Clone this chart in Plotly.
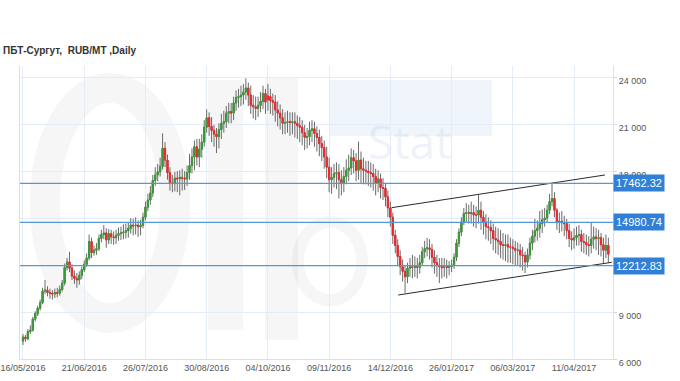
import plotly.graph_objects as go

# ---------------- data ----------------
tick_dates = ["16/05/2016", "21/06/2016", "26/07/2016", "30/08/2016", "04/10/2016",
              "09/11/2016", "14/12/2016", "26/01/2017", "06/03/2017", "11/04/2017"]
tick_bars = [0, 25, 50, 75, 100, 125, 150, 175, 200, 225]

opens = [7400, 7650, 7550, 8000, 8100, 8800, 9150, 9500, 9850, 10600,
         10650, 10500, 10450, 10400, 10500, 10450, 10700, 11100, 12100, 12450,
         12050, 11550, 11400, 11300, 11600, 11950, 12300, 12700, 13750, 13050,
         13200, 13300, 13950, 14200, 14300, 13850, 14250, 14050, 14000, 14150,
         14250, 14300, 14350, 14450, 14600, 14800, 14750, 14800, 14700, 14800,
         15300, 15950, 16400, 16850, 17650, 18000, 18200, 18550, 19700, 18950,
         18150, 17500, 17450, 17800, 17750, 17850, 17800, 17750, 18150, 18600,
         19150, 19800, 19150, 19650, 20100, 21050, 21650, 21100, 20850, 20600,
         20450, 20900, 21300, 21400, 21950, 22050, 21950, 22600, 22950, 23000,
         23100, 23300, 23550, 23100, 22450, 22350, 22250, 22450, 22700, 23200,
         23050, 23000, 22750, 22650, 22150, 21950, 21650, 21300, 21350, 21400,
         21350, 21400, 21300, 21150, 21050, 20700, 20400, 20450, 20850, 20950,
         20650, 20400, 20000, 19750, 19150, 18500, 17700, 17850, 18100, 18150,
         17700, 17500, 17900, 18300, 18450, 19100, 18900, 18300, 18950, 18400,
         18300, 18250, 18150, 18100, 17900, 17500, 17750, 17200, 17150, 16600,
         15900, 15300, 14150, 13500, 12800, 12150, 11850, 11500, 12050, 12150,
         12100, 12150, 12100, 12400, 13100, 13300, 13350, 13250, 12750, 12400,
         12250, 12150, 12100, 12150, 12100, 12150, 12250, 12750, 13650, 14350,
         15000, 15550, 15600, 15550, 15600, 15450, 15450, 15750, 15300, 15000,
         14700, 14650, 14450, 13950, 13850, 13750, 13550, 13500, 13550, 13400,
         13400, 13300, 13200, 13200, 12900, 12850, 12450, 12900, 13650, 14100,
         14450, 14600, 14900, 15150, 15250, 15750, 16300, 16500, 15750, 15000,
         15050, 14950, 14900, 14450, 13950, 13850, 14000, 14150, 14200, 13750,
         13700, 13550, 13500, 13900, 14050, 13950, 14000, 13550, 13200, 13500]

highs = [7850, 7800, 8150, 8400, 8950, 9300, 9650, 10050, 10800, 11300,
         10900, 10750, 10650, 10750, 10800, 10950, 11300, 12350, 12700, 13100,
         12300, 11900, 11750, 11850, 12150, 12550, 13000, 14200, 14000, 13500,
         13650, 14200, 14500, 14800, 14600, 14550, 14500, 14400, 14500, 14650,
         14700, 14850, 14900, 15000, 15250, 15200, 15300, 15100, 15150, 15600,
         16300, 16800, 17300, 18000, 18500, 18700, 19100, 20650, 20100, 19300,
         18500, 18000, 18200, 18250, 18300, 18400, 18250, 18600, 19350, 19700,
         20200, 20300, 20300, 20600, 21500, 22200, 22000, 21700, 21200, 21000,
         21300, 21900, 22100, 22400, 22600, 22600, 23000, 23400, 23500, 23700,
         23800, 24170, 23900, 23700, 23100, 23000, 23000, 23300, 23700, 23500,
         23800, 23500, 23200, 23100, 22700, 22500, 22200, 22000, 22100, 22000,
         22000, 22000, 21800, 21700, 21500, 21200, 21000, 21400, 21500, 21400,
         21100, 20900, 20500, 20200, 19800, 19100, 18500, 18700, 18800, 18700,
         18300, 18500, 19000, 19300, 19700, 19600, 19400, 20130, 19500, 19100,
         18900, 18900, 18800, 18700, 18400, 18300, 18100, 17800, 17500, 17000,
         16300, 15600, 14500, 13900, 13200, 12600, 12200, 12400, 12700, 12900,
         12800, 12700, 12900, 13400, 13800, 13980, 13900, 13600, 13200, 12900,
         12700, 12700, 12700, 12600, 12500, 12600, 13000, 13900, 14600, 15300,
         15900, 16200, 16100, 16300, 16100, 16000, 16720, 16300, 15700, 15500,
         15300, 15100, 14900, 14700, 14600, 14500, 14300, 14200, 14200, 14000,
         13900, 13800, 13700, 13600, 13400, 13100, 13300, 14000, 14500, 15200,
         15100, 15700, 15800, 15900, 16100, 16800, 17470, 16900, 15900, 15600,
         15700, 15400, 15200, 14900, 14400, 14600, 14700, 14800, 14500, 14300,
         14200, 14100, 14950, 14700, 14600, 14500, 14300, 14000, 14200, 14000]

lows = [7150, 7350, 7450, 7850, 8000, 8650, 9000, 9350, 9750, 10400,
        10250, 10100, 10050, 10150, 10200, 10300, 10550, 10950, 11900, 11800,
        11300, 11050, 10800, 11000, 11350, 11800, 12150, 12550, 12700, 12850,
        12900, 13150, 13700, 13900, 13350, 13600, 13600, 13550, 13600, 13800,
        13850, 13900, 13950, 14000, 14250, 14150, 14200, 14050, 14150, 14600,
        15100, 15700, 16100, 16600, 17300, 17600, 17900, 18350, 18500, 17700,
        17000, 16900, 16950, 16900, 16700, 17000, 17050, 17300, 17700, 18100,
        18300, 18600, 18500, 19100, 19800, 20700, 20500, 20100, 19800, 19400,
        19700, 20300, 20700, 21000, 21300, 21300, 21500, 22100, 22300, 22400,
        22500, 22800, 22400, 21900, 21600, 21500, 21700, 22000, 22200, 21900,
        22100, 21900, 21800, 21400, 21100, 20900, 20600, 20600, 20700, 20500,
        20600, 20400, 20300, 20100, 19900, 19600, 19700, 19900, 20100, 19800,
        19500, 19200, 18900, 18400, 17800, 16900, 16800, 17200, 17100, 16500,
        16700, 16900, 17400, 17600, 18000, 18100, 17600, 17700, 17500, 17400,
        17400, 17300, 17200, 17000, 16700, 16900, 16500, 16400, 16000, 15300,
        14700, 13600, 13000, 12200, 11600, 11200, 10470, 11100, 11500, 11400,
        11500, 11400, 11700, 12200, 12700, 12800, 12600, 12100, 11700, 11500,
        11100, 11400, 11500, 11400, 11600, 11800, 12000, 12500, 13400, 14100,
        14800, 15000, 14900, 14900, 14700, 14600, 14900, 14500, 14200, 13900,
        13800, 13600, 13200, 13000, 12900, 12700, 12600, 12500, 12400, 12400,
        12300, 12200, 12200, 12100, 11900, 11740, 12100, 12600, 13200, 13700,
        13800, 14000, 14300, 14700, 15000, 15500, 16000, 15300, 14500, 14300,
        14400, 14100, 13900, 13400, 13200, 13300, 13500, 13500, 13100, 13000,
        12900, 12800, 13000, 13300, 13200, 12900, 12800, 12350, 12700, 12400]

closes = [7650, 7550, 8000, 8100, 8800, 9150, 9500, 9850, 10600, 10650,
          10500, 10450, 10400, 10500, 10450, 10700, 11100, 12100, 12450, 12050,
          11550, 11400, 11300, 11600, 11950, 12300, 12700, 13750, 13050, 13200,
          13300, 13950, 14200, 14300, 13850, 14250, 14050, 14000, 14150, 14250,
          14300, 14350, 14450, 14600, 14800, 14750, 14800, 14700, 14800, 15300,
          15950, 16400, 16850, 17650, 18000, 18200, 18550, 19700, 18950, 18150,
          17500, 17450, 17800, 17750, 17850, 17800, 17750, 18150, 18600, 19150,
          19800, 19150, 19650, 20100, 21050, 21650, 21100, 20850, 20600, 20450,
          20900, 21300, 21400, 21950, 22050, 21950, 22600, 22950, 23000, 23100,
          23300, 23550, 23100, 22450, 22350, 22250, 22450, 22700, 23200, 22650,
          22800, 22750, 22650, 22150, 21950, 21650, 21300, 21350, 21400, 21350,
          21400, 21300, 21150, 21050, 20700, 20400, 20450, 20850, 20950, 20650,
          20400, 20000, 19750, 19150, 18500, 17700, 17850, 18100, 18150, 17700,
          17500, 17900, 18300, 18450, 19100, 18900, 18300, 18950, 18400, 18300,
          18250, 18150, 18100, 17900, 17500, 17750, 17200, 17150, 16600, 15900,
          15300, 14150, 13500, 12800, 12150, 11850, 11500, 12050, 12150, 12100,
          12150, 12100, 12400, 13100, 13300, 13350, 13250, 12750, 12400, 12250,
          12150, 12100, 12150, 12100, 12150, 12250, 12750, 13650, 14350, 15000,
          15550, 15600, 15550, 15600, 15450, 15450, 15750, 15300, 15000, 14700,
          14650, 14450, 13950, 13850, 13750, 13550, 13500, 13550, 13400, 13400,
          13300, 13200, 13200, 12900, 12850, 12450, 12900, 13650, 14100, 14450,
          14600, 14900, 15150, 15250, 15750, 16300, 16500, 15750, 15000, 15050,
          14950, 14900, 14450, 13950, 13850, 14000, 14150, 14200, 13750, 13700,
          13550, 13500, 13900, 14050, 13950, 14000, 13550, 13200, 13500, 12950]

levels = [17462.32, 14980.74, 12212.83]
level_labels = ["17462.32", "14980.74", "12212.83"]

upper_x = [150.5, 237.6]
upper_y = [15913, 18000]
lower_x = [153.2, 240.4]
lower_y = [10340, 12427]

y_ticks = [6000, 9000, 12000, 15000, 18000, 21000, 24000]
# 12 000 and 15 000 sit behind the level boxes in the reference
y_ticktext = ["6 000", "9 000", "", "", "18 000", "21 000", "24 000"]

title_text = "ПБТ-Сургут,  RUB/MT ,Daily"

# ---------------- layout helpers ----------------
W, H = 680, 381
ML, MR, MT, MB = 20, 67, 66, 22
PW, PH = W - ML - MR, H - MT - MB


def px(x):
    return (x - ML) / PW


def py(y):
    return (H - MB - y) / PH


bars = list(range(len(closes)))
body_hi = [max(o, c) for o, c in zip(opens, closes)]
body_lo = [min(o, c) for o, c in zip(opens, closes)]

GREEN = "#3b9a35"
RED = "#ee2a2f"
WICK = "#6a6a6a"

fig = go.Figure()

# wicks
fig.add_trace(go.Candlestick(
    x=bars, open=opens, high=highs, low=lows, close=closes,
    increasing=dict(line=dict(color=WICK, width=1), fillcolor=WICK),
    decreasing=dict(line=dict(color=WICK, width=1), fillcolor=WICK),
    hoverinfo="skip", showlegend=False))
# bodies
fig.add_trace(go.Candlestick(
    x=bars, open=opens, high=body_hi, low=body_lo, close=closes,
    increasing=dict(line=dict(color=GREEN, width=1), fillcolor=GREEN),
    decreasing=dict(line=dict(color=RED, width=1), fillcolor=RED),
    hoverinfo="skip", showlegend=False))

# trend lines
for tx, ty in ((upper_x, upper_y), (lower_x, lower_y)):
    fig.add_trace(go.Scatter(x=tx, y=ty, mode="lines",
                             line=dict(color="#2b2b2b", width=1),
                             hoverinfo="skip", showlegend=False))

# empty trace so the grid / label axis is drawn
fig.add_trace(go.Scatter(x=[None], y=[None], yaxis="y2", mode="lines",
                         hoverinfo="skip", showlegend=False))

shapes = []
# watermark (decorative)
WM_GRAY = "rgba(0,0,0,0.035)"
shapes.append(dict(type="circle", xref="paper", yref="paper", layer="below",
                   x0=px(45), x1=px(175), y0=py(318), y1=py(88),
                   line=dict(color=WM_GRAY, width=30)))
shapes.append(dict(type="rect", xref="paper", yref="paper", layer="below",
                   x0=px(208), x1=px(243), y0=py(330), y1=py(80),
                   fillcolor=WM_GRAY, line=dict(width=0)))
shapes.append(dict(type="rect", xref="paper", yref="paper", layer="below",
                   x0=px(265), x1=px(298), y0=py(340), y1=py(78),
                   fillcolor=WM_GRAY, line=dict(width=0)))
shapes.append(dict(type="circle", xref="paper", yref="paper", layer="below",
                   x0=px(298), x1=px(362), y0=py(300), y1=py(222),
                   line=dict(color=WM_GRAY, width=12)))
shapes.append(dict(type="rect", xref="paper", yref="paper", layer="below",
                   x0=px(330), x1=px(492), y0=py(136), y1=py(80),
                   fillcolor="rgba(120,170,220,0.12)", line=dict(width=0)))

# horizontal levels
for lv in levels:
    shapes.append(dict(type="line", xref="paper", yref="y", x0=0, x1=1,
                       y0=lv, y1=lv, layer="above",
                       line=dict(color="#5697db", width=1.3)))

annotations = [dict(x=px(410), y=py(108), xref="paper", yref="paper",
                    text="Stat", showarrow=False,
                    font=dict(family="Open Sans", size=46, color="rgba(120,165,210,0.14)"))]
for lv, lt in zip(levels, level_labels):
    annotations.append(dict(x=1, xref="paper", xanchor="left", y=lv, yref="y",
                            yanchor="middle", text=lt, showarrow=False,
                            bgcolor="#2f80d6", borderpad=2,
                            font=dict(family="Liberation Sans", size=11, color="white")))

fig.update_layout(
    width=W, height=H,
    margin=dict(l=ML, r=MR, t=MT, b=MB, autoexpand=False),
    paper_bgcolor="white", plot_bgcolor="rgba(0,0,0,0)",
    title=dict(text=title_text, x=3 / W, xanchor="left", xref="container",
               y=1 - 50 / H, yanchor="middle",
               font=dict(family="Liberation Sans", size=10, color="#333", weight="bold")),
    xaxis=dict(range=[-1.22, 240.9], tickvals=tick_bars, ticktext=tick_dates,
               showgrid=True, gridcolor="#e4edf7", gridwidth=1, automargin=False,
               showline=True, linecolor="#d3e1f0", zeroline=False, ticks="",
               tickfont=dict(family="Liberation Sans", size=9, color="#555"),
               rangeslider=dict(visible=False), fixedrange=True),
    yaxis=dict(range=[6255, 24957], side="right", showgrid=False, zeroline=False,
               showticklabels=False, ticks="", showline=True, mirror=True,
               linecolor="#d3e1f0", automargin=False),
    yaxis2=dict(range=[6000, 24702], overlaying="y", side="right",
                tickvals=y_ticks, ticktext=y_ticktext, automargin=False,
                showgrid=True, gridcolor="#e4edf7", zeroline=False,
                ticks="outside", ticklen=3, tickcolor="#c8d6e6",
                ticklabelshift=4,
                tickfont=dict(family="Liberation Sans", size=9, color="#555")),
    shapes=shapes, annotations=annotations,
    showlegend=False,
)

fig.write_html("out.html", config={"displayModeBar": False},
               post_script="document.body.style.margin='0';document.body.style.padding='0';")
